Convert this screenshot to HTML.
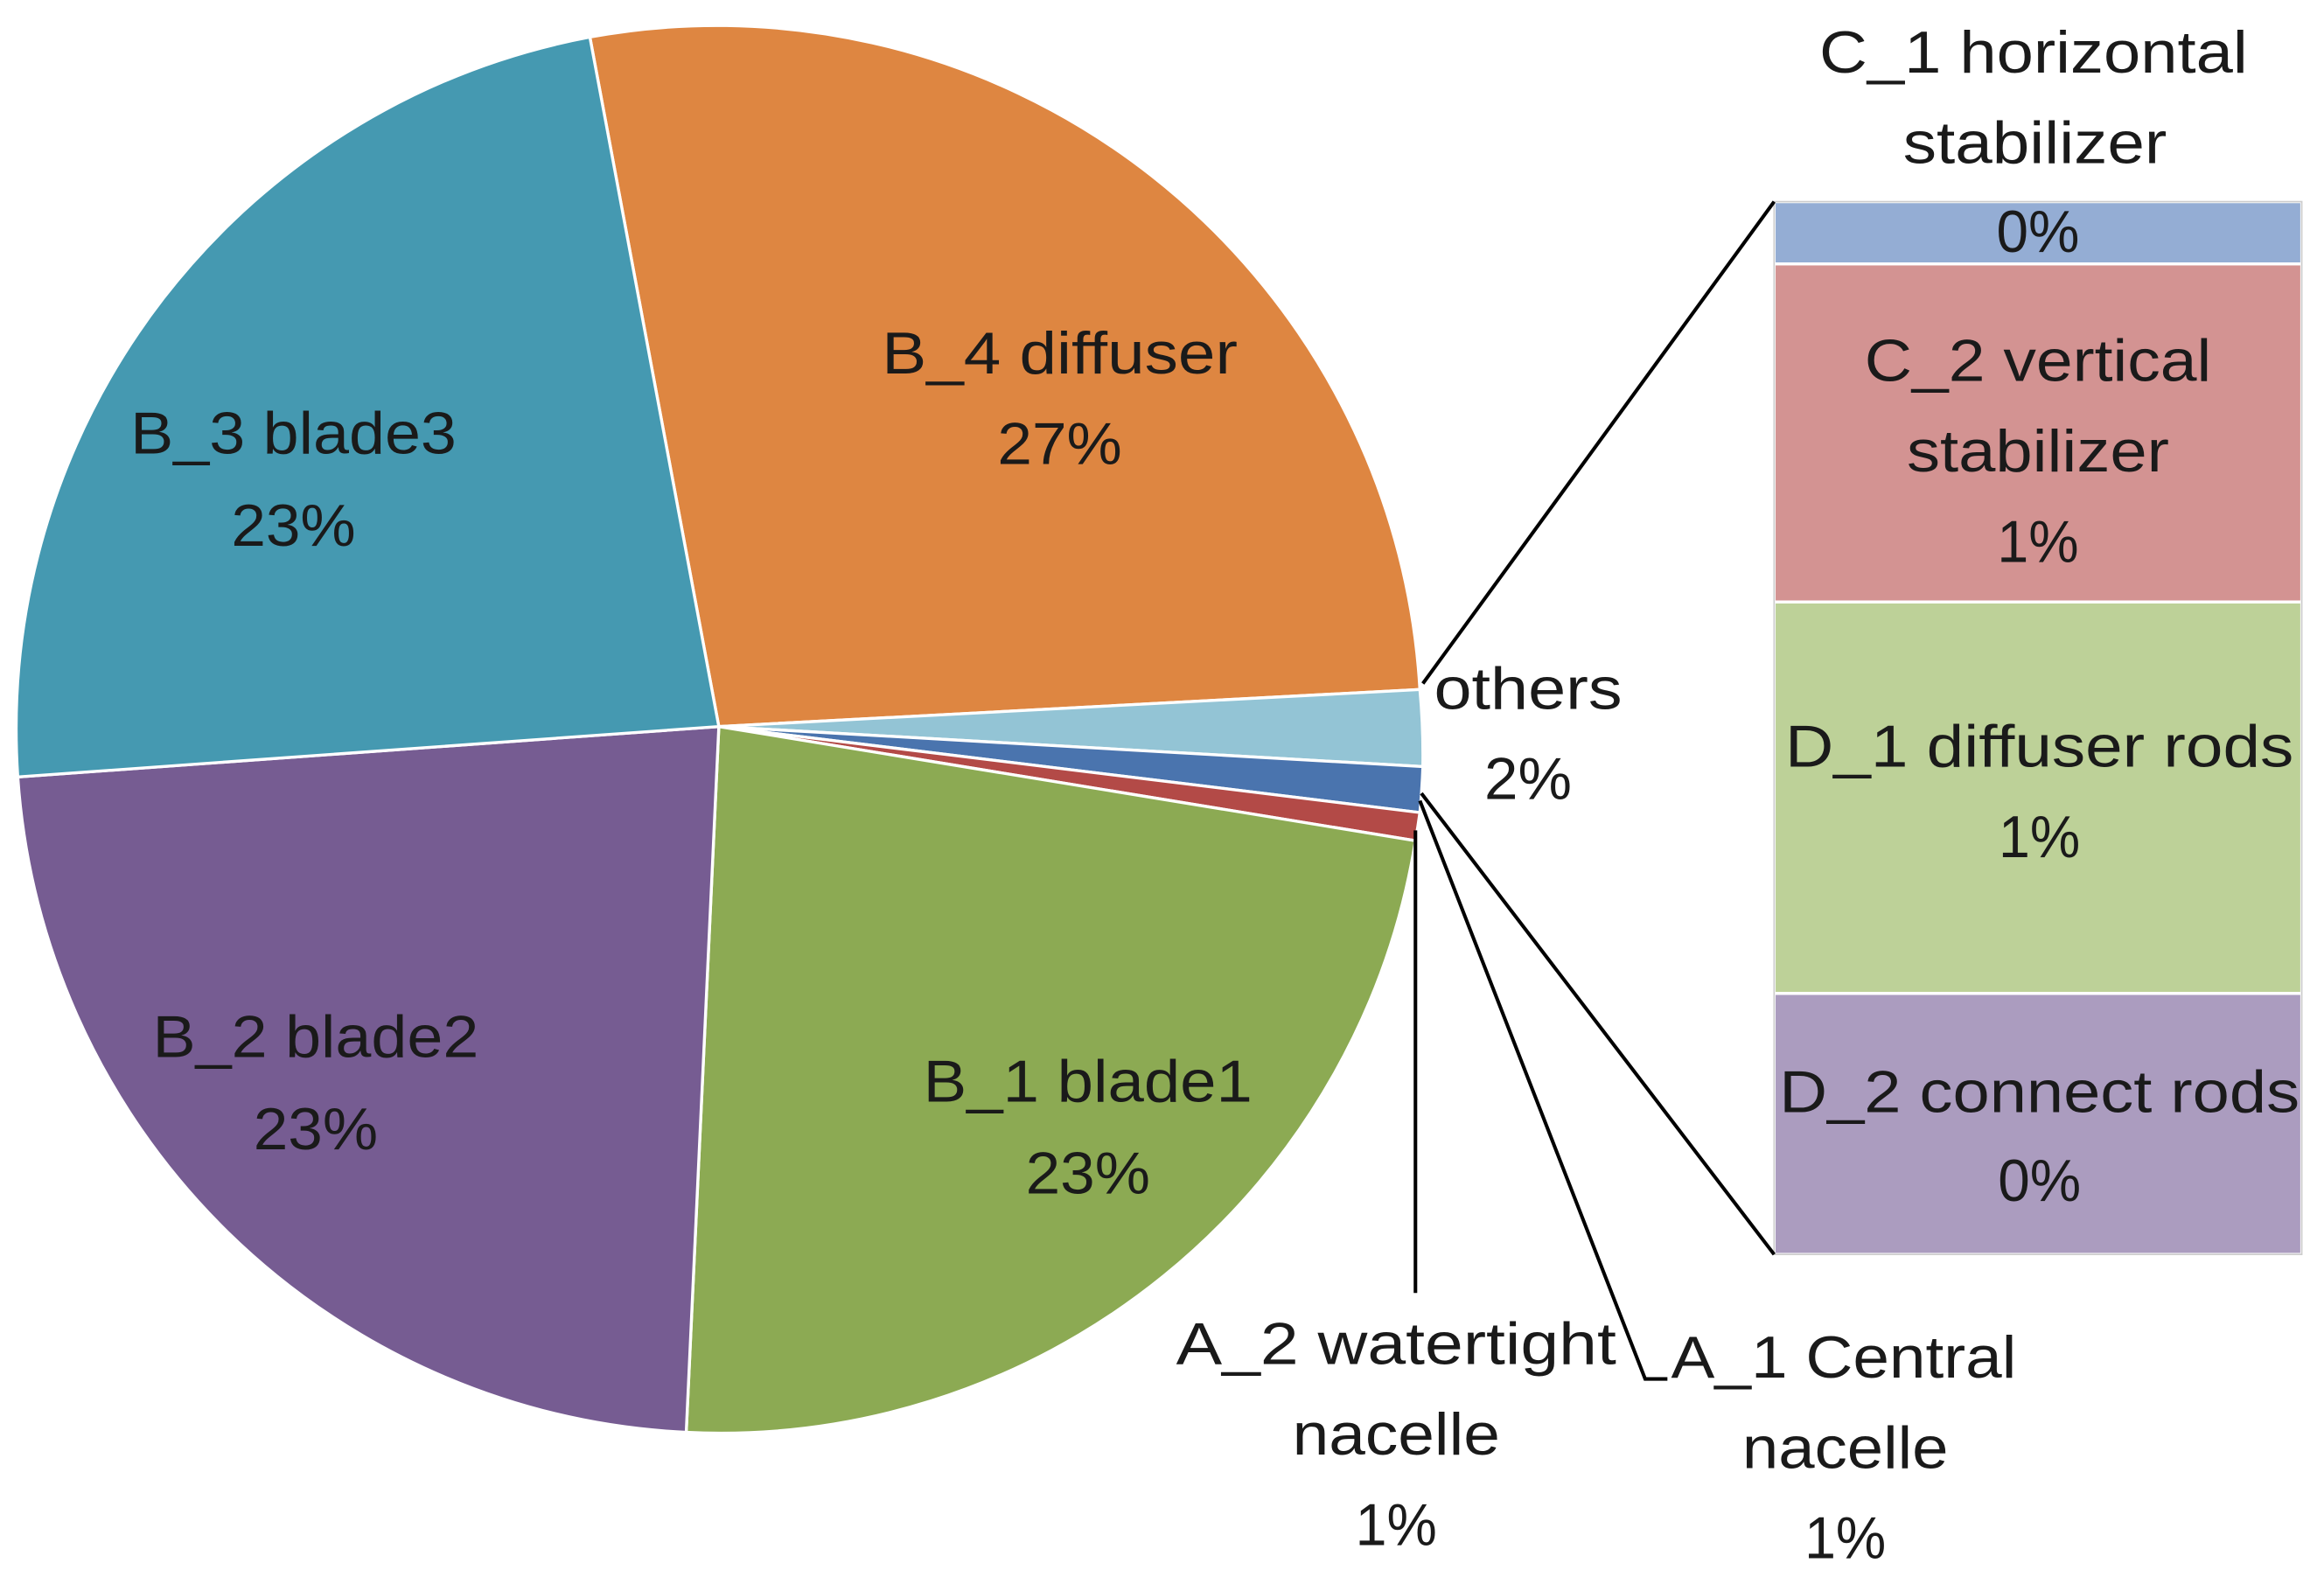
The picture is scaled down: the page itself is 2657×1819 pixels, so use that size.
<!DOCTYPE html>
<html><head><meta charset="utf-8"><style>html,body{margin:0;padding:0;background:#fff}svg{display:block}</style></head>
<body>
<svg width="2657" height="1819" viewBox="0 0 1568 1073" preserveAspectRatio="none" xmlns="http://www.w3.org/2000/svg">
<g stroke="#fff" stroke-width="2" stroke-linejoin="round">
<path d="M485,490 L398,25 A475,475 0 0 1 958,465 Z" fill="#DE8641"/>
<path d="M485,490 L958,465 A475,475 0 0 1 960,517 Z" fill="#93C4D5"/>
<path d="M485,490 L960,517 A475,475 0 0 1 958,548 Z" fill="#4A74AE"/>
<path d="M485,490 L958,548 A475,475 0 0 1 955,567 Z" fill="#B34A47"/>
<path d="M485,490 L955,567 A475,475 0 0 1 463,966 Z" fill="#8CAA53"/>
<path d="M485,490 L463,966 A475,475 0 0 1 12,524 Z" fill="#765C92"/>
<path d="M485,490 L12,524 A475,475 0 0 1 398,25 Z" fill="#4599B1"/>
</g>
<g stroke="#fff" stroke-width="2">
<rect x="1197" y="136" width="356" height="42" fill="#94ADD4"/>
<rect x="1197" y="178" width="356" height="228" fill="#D39392"/>
<rect x="1197" y="406" width="356" height="264" fill="#BDD198"/>
<rect x="1197" y="670" width="356" height="176" fill="#AB9CBF"/>
</g>
<rect x="1197" y="136" width="356" height="710" fill="none" stroke="#ccc" stroke-width="1"/>
<g stroke="#000" stroke-width="2.4" fill="none">
<line x1="960" y1="461" x2="1197" y2="136"/>
<line x1="959" y1="535" x2="1197" y2="846"/>
<polyline points="958,540 1110,930 1125,930"/>
<line x1="955" y1="560" x2="955" y2="872"/>
</g>
<g font-family="'Liberation Sans', sans-serif" font-size="40" fill="#1a1a1a" text-anchor="middle" lengthAdjust="spacingAndGlyphs">
<text x="715" y="252" textLength="240" lengthAdjust="spacingAndGlyphs">B_4 diffuser</text><text x="715" y="313" textLength="84" lengthAdjust="spacingAndGlyphs">27%</text>
<text x="198" y="306" textLength="220" lengthAdjust="spacingAndGlyphs">B_3 blade3</text><text x="198" y="368" textLength="84" lengthAdjust="spacingAndGlyphs">23%</text>
<text x="213" y="713" textLength="220" lengthAdjust="spacingAndGlyphs">B_2 blade2</text><text x="213" y="775" textLength="84" lengthAdjust="spacingAndGlyphs">23%</text>
<text x="734" y="743" textLength="222" lengthAdjust="spacingAndGlyphs">B_1 blade1</text><text x="734" y="805" textLength="84" lengthAdjust="spacingAndGlyphs">23%</text>
<text x="1031" y="478" textLength="127" lengthAdjust="spacingAndGlyphs">others</text><text x="1031" y="539" textLength="59" lengthAdjust="spacingAndGlyphs">2%</text>
<text x="1372" y="49" textLength="289" lengthAdjust="spacingAndGlyphs">C_1 horizontal</text><text x="1373" y="110" textLength="178" lengthAdjust="spacingAndGlyphs">stabilizer</text>
<text x="1375" y="170" textLength="56" lengthAdjust="spacingAndGlyphs">0%</text>
<text x="1375" y="257" textLength="234" lengthAdjust="spacingAndGlyphs">C_2 vertical</text><text x="1375" y="318" textLength="177" lengthAdjust="spacingAndGlyphs">stabilizer</text><text x="1375" y="379" textLength="55" lengthAdjust="spacingAndGlyphs">1%</text>
<text x="1376" y="517" textLength="343" lengthAdjust="spacingAndGlyphs">D_1 diffuser rods</text><text x="1376" y="578" textLength="55" lengthAdjust="spacingAndGlyphs">1%</text>
<text x="1376" y="750" textLength="351" lengthAdjust="spacingAndGlyphs">D_2 connect rods</text><text x="1376" y="810" textLength="56" lengthAdjust="spacingAndGlyphs">0%</text>
<text x="942" y="920" textLength="297" lengthAdjust="spacingAndGlyphs">A_2 watertight</text><text x="942" y="981" textLength="140" lengthAdjust="spacingAndGlyphs">nacelle</text><text x="942" y="1042" textLength="55" lengthAdjust="spacingAndGlyphs">1%</text>
<text x="1244" y="929" textLength="233" lengthAdjust="spacingAndGlyphs">A_1 Central</text><text x="1245" y="990" textLength="139" lengthAdjust="spacingAndGlyphs">nacelle</text><text x="1245" y="1051" textLength="55" lengthAdjust="spacingAndGlyphs">1%</text>
</g>
</svg>
</body></html>
